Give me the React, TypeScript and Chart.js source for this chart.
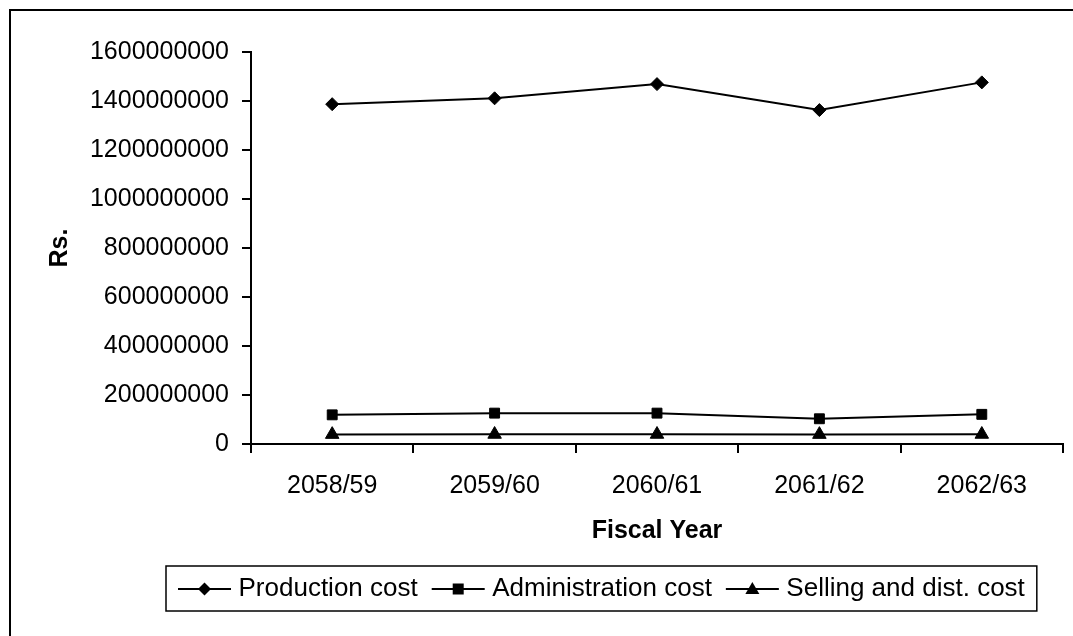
import React, { useEffect, useRef } from "react";
import { Chart, registerables } from "chart.js";

Chart.register(...registerables);

// Fiscal years (Nepali calendar) on the category axis
const fiscalYears = ["2058/59", "2059/60", "2060/61", "2061/62", "2062/63"];

// Costs in Rs.
const productionCost = [1387000000, 1411000000, 1469000000, 1363000000, 1476000000];
const administrationCost = [119000000, 126000000, 126000000, 103000000, 121000000];
const sellingDistCost = [39000000, 39500000, 39500000, 39000000, 39500000];

// Value axis ticks
const yTickValues = [0, 200000000, 400000000, 600000000, 800000000, 1000000000, 1200000000, 1400000000, 1600000000];

const seriesLabels = ["Production cost", "Administration cost", "Selling and dist. cost"];

const FONT = '"Liberation Sans", Arial, Helvetica, sans-serif';
const W = 1073;
const H = 636;

function drawMarker(ctx: CanvasRenderingContext2D, style: string, x: number, y: number) {
  ctx.beginPath();
  if (style === "rectRot") {
    const r = 6.5;
    ctx.moveTo(x - r, y);
    ctx.lineTo(x, y - r);
    ctx.lineTo(x + r, y);
    ctx.lineTo(x, y + r);
    ctx.closePath();
  } else if (style === "rect") {
    const s = 5.5;
    ctx.rect(x - s, y - s, 2 * s, 2 * s);
  } else {
    const hw = 7;
    ctx.moveTo(x, y - 7);
    ctx.lineTo(x + hw, y + 5);
    ctx.lineTo(x - hw, y + 5);
    ctx.closePath();
  }
  ctx.fill();
}

// Outer frame and the boxed legend underneath the plot
const frameLegendPlugin = {
  id: "frameLegend",
  afterDraw(chart: any) {
    const ctx: CanvasRenderingContext2D = chart.ctx;
    ctx.save();
    ctx.strokeStyle = "#000";
    ctx.fillStyle = "#000";

    ctx.lineWidth = 2;
    ctx.beginPath();
    ctx.moveTo(10, chart.height);
    ctx.lineTo(10, 10);
    ctx.lineTo(chart.width, 10);
    ctx.stroke();

    const boxLeft = 166;
    const boxTop = 566;
    const boxBottom = 611;
    const midY = 589;
    ctx.font = `26px ${FONT}`;
    ctx.textBaseline = "middle";
    ctx.textAlign = "left";
    let x = boxLeft + 12;
    chart.data.datasets.forEach((ds: any) => {
      ctx.lineWidth = 2;
      ctx.beginPath();
      ctx.moveTo(x, midY);
      ctx.lineTo(x + 53, midY);
      ctx.stroke();
      drawMarker(ctx, ds.pointStyle, x + 26.5, midY);
      const tx = x + 53 + 7.5;
      ctx.fillText(ds.label, tx, midY);
      x = tx + ctx.measureText(ds.label).width + 14;
    });
    const boxRight = x - 14 + 12;
    ctx.lineWidth = 1.5;
    ctx.strokeRect(boxLeft, boxTop, boxRight - boxLeft, boxBottom - boxTop);
    ctx.restore();
  },
};

export default function App() {
  const canvasRef = useRef<HTMLCanvasElement | null>(null);

  useEffect(() => {
    const canvas = canvasRef.current;
    if (!canvas) return;
    const common = {
      borderColor: "#000",
      backgroundColor: "#000",
      pointBackgroundColor: "#000",
      pointBorderColor: "#000",
      pointBorderWidth: 1,
      borderWidth: 2,
      tension: 0,
      fill: false,
    };
    const chart = new Chart(canvas, {
      type: "line",
      data: {
        labels: fiscalYears,
        datasets: [
          { ...common, label: seriesLabels[0], data: productionCost, pointStyle: "rectRot", pointRadius: 6.5 },
          { ...common, label: seriesLabels[1], data: administrationCost, pointStyle: "rect", pointRadius: 7 },
          { ...common, label: seriesLabels[2], data: sellingDistCost, pointStyle: "triangle", pointRadius: 7.8 },
        ],
      },
      options: {
        responsive: false,
        animation: false,
        devicePixelRatio: 1,
        events: [],
        layout: { padding: { left: 0, top: 52, right: 10, bottom: 0 } },
        plugins: {
          legend: { display: false },
          tooltip: { enabled: false },
          title: { display: false },
        },
        scales: {
          x: {
            type: "category",
            offset: true,
            grid: {
              offset: true,
              drawOnChartArea: false,
              drawTicks: true,
              tickLength: 9,
              color: "#000",
              lineWidth: 2,
            },
            border: { display: true, color: "#000", width: 2 },
            ticks: {
              color: "#000",
              font: { family: FONT, size: 25 },
              padding: 18,
              maxRotation: 0,
              autoSkip: false,
            },
            title: {
              display: true,
              text: "Fiscal Year",
              color: "#000",
              font: { family: FONT, size: 25, weight: "bold" },
              padding: { top: 0, bottom: 90 },
            },
            afterFit(scale: any) {
              scale.height = 192;
            },
          },
          y: {
            type: "linear",
            min: 0,
            max: 1600000000,
            grid: {
              drawOnChartArea: false,
              drawTicks: true,
              tickLength: 9,
              color: "#000",
              lineWidth: 2,
            },
            border: { display: true, color: "#000", width: 2 },
            ticks: {
              color: "#000",
              font: { family: FONT, size: 25 },
              padding: 13,
              callback: (v: any) => String(v),
            },
            afterBuildTicks(scale: any) {
              scale.ticks = yTickValues.map((value) => ({ value }));
            },
            title: {
              display: true,
              text: "Rs.",
              color: "#000",
              font: { family: FONT, size: 25, weight: "bold" },
              padding: { top: 45, bottom: 0 },
            },
            afterFit(scale: any) {
              scale.width = 251;
            },
          },
        },
      } as any,
      plugins: [frameLegendPlugin],
    });
    return () => chart.destroy();
  }, []);

  return (
    <div style={{ position: "absolute", left: 0, top: 0, width: W, height: H, background: "#fff" }}>
      <canvas ref={canvasRef} width={W} height={H} style={{ width: W, height: H, display: "block" }} />
    </div>
  );
}
